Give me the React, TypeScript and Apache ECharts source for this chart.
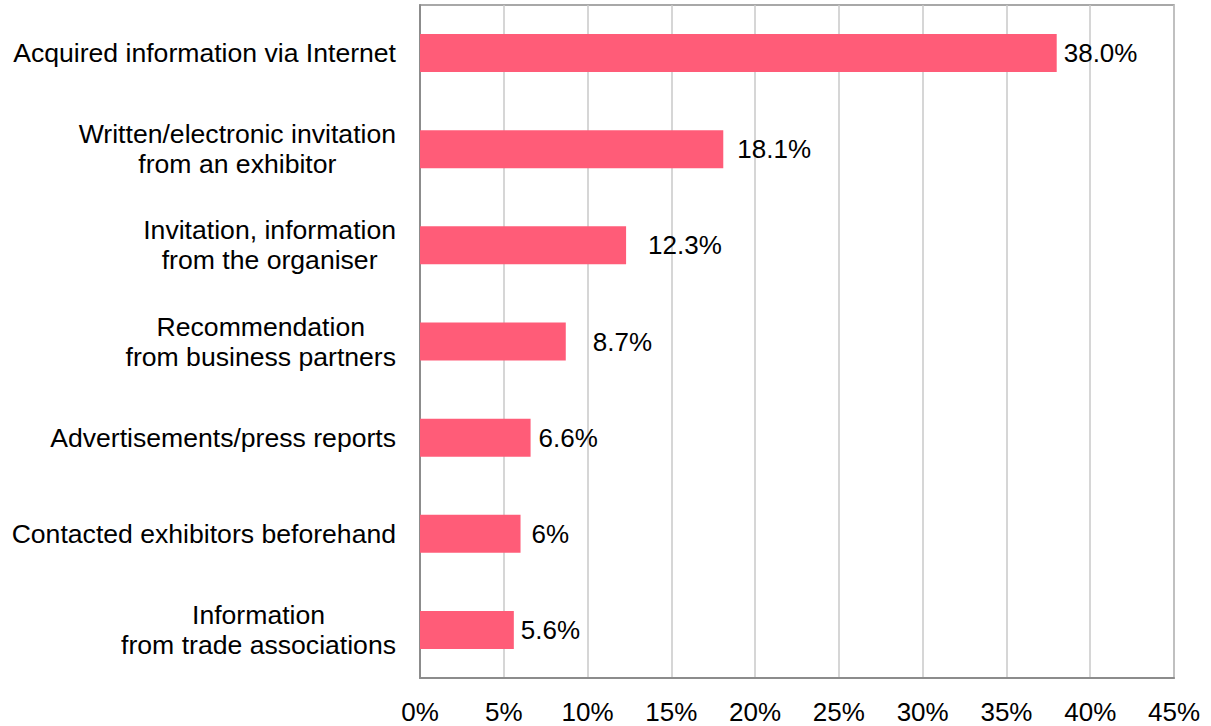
import React, { useEffect, useRef } from "react";
import * as echarts from "echarts";

const categories = [
  "Acquired information via Internet",
  "Written/electronic invitation\nfrom an exhibitor",
  "Invitation, information\nfrom the organiser",
  "Recommendation\nfrom business partners",
  "Advertisements/press reports",
  "Contacted exhibitors beforehand",
  "Information\nfrom trade associations",
];
const values = [38.0, 18.1, 12.3, 8.7, 6.6, 6, 5.6];
const valueLabels = ["38.0%", "18.1%", "12.3%", "8.7%", "6.6%", "6%", "5.6%"];
const xTicks = [0, 5, 10, 15, 20, 25, 30, 35, 40, 45];

// label gaps (layout only) to mimic the reference's label placement
const labelGaps = [7, 14, 22, 27, 8, 11, 7];

const FONT = "'Liberation Sans', Arial, sans-serif";

export default function App() {
  const ref = useRef<HTMLDivElement>(null);
  useEffect(() => {
    if (!ref.current) return;
    const chart = echarts.init(ref.current, undefined, { renderer: "svg" });
    chart.setOption({
      animation: false,
      backgroundColor: "#ffffff",
      textStyle: { fontFamily: FONT },
      grid: {
        left: 420,
        right: 37,
        top: 5,
        bottom: 48,
        show: true,
        borderColor: "#8c8c8c",
        borderWidth: 1.5,
        backgroundColor: "transparent",
      },
      xAxis: {
        type: "value",
        min: xTicks[0],
        max: xTicks[xTicks.length - 1],
        interval: 5,
        axisLine: { show: true, lineStyle: { color: "#8c8c8c", width: 2 } },
        axisTick: { show: false },
        splitLine: { show: true, lineStyle: { color: "#c8c8c8", width: 1.5 } },
        axisLabel: {
          formatter: (v: number) => `${v}%`,
          fontSize: 26,
          color: "#000",
          margin: 21,
          fontFamily: FONT,
        },
      },
      yAxis: {
        type: "category",
        data: categories,
        inverse: true,
        axisLine: { show: true, lineStyle: { color: "#8c8c8c", width: 2 } },
        axisTick: { show: false },
        splitLine: { show: false },
        axisLabel: {
          margin: 24,
          fontSize: 26.6,
          color: "#000",
          lineHeight: 30,
          fontFamily: FONT,
          formatter: (v: string) =>
            v
              .split("\n")
              .map((l) => `{a|${l}}`)
              .join("\n"),
          rich: {
            a: {
              align: "center",
              fontSize: 26.6,
              lineHeight: 30,
              color: "#000",
              fontFamily: FONT,
            },
          },
        },
      },
      series: [
        {
          type: "bar",
          barWidth: 38,
          data: values.map((v, i) => ({
            value: v,
            label: { distance: labelGaps[i] },
          })),
          itemStyle: { color: "#ff5c78" },
          label: {
            show: true,
            position: "right",
            fontSize: 26,
            color: "#000",
            fontFamily: FONT,
            formatter: (p: any) => valueLabels[p.dataIndex],
          },
        },
      ],
    });
    return () => chart.dispose();
  }, []);
  return (
    <div
      ref={ref}
      style={{ position: "absolute", left: 0, top: 0, width: 1211, height: 726 }}
    />
  );
}
